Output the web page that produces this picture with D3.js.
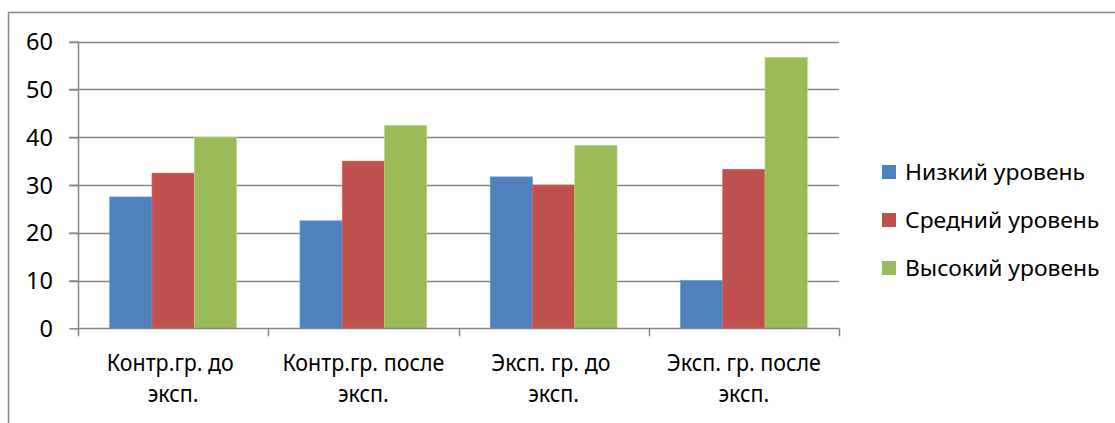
<!DOCTYPE html>
<html>
<head>
<meta charset="utf-8">
<script src="https://cdn.jsdelivr.net/npm/d3@7"></script>
<style>
  html, body { margin: 0; padding: 0; background: #fff; }
  svg { display: block; }
  text { font-family: "Noto Sans", "DejaVu Sans", sans-serif; fill: #000; white-space: pre; }
</style>
</head>
<body>
<svg id="chart" width="1115" height="423"></svg>
<script>
// Category labels, split into two lines each
const categories = ["Контр.гр. до эксп.", "Контр.гр. после эксп.", "Эксп. гр. до эксп.", "Эксп. гр. после эксп."];
const categoryLines = [["Контр.гр. до ", "эксп."], ["Контр.гр. после", "эксп."], ["Эксп. гр. до ", "эксп."], ["Эксп. гр. после", "эксп."]];
const seriesNames = ["Низкий уровень", "Средний уровень", "Высокий уровень"];
const lowLevel    = [27.5, 22.5, 31.7, 10];
const midLevel    = [32.5, 35, 30, 33.3];
const highLevel   = [40, 42.5, 38.3, 56.7];
const yTicks = [0, 10, 20, 30, 40, 50, 60];
const colors = ["#4F81BD", "#C0504D", "#9BBB59"];

const seriesValues = [lowLevel, midLevel, highLevel];

const svg = d3.select("#chart");
const gridColor = "#868686";

// outer chart frame (right and bottom edges fall outside the view)
svg.append("rect")
  .attr("x", 8.5).attr("y", 12.5)
  .attr("width", 1120).attr("height", 430)
  .attr("fill", "none").attr("stroke", gridColor).attr("stroke-width", 1.5);

const plot = { left: 78, right: 839, top: 41.7, bottom: 328.3 };

const x0 = d3.scaleBand().domain(categories).range([plot.left, plot.right]).paddingInner(0).paddingOuter(0);
// Excel-style gap width of 150%: gap = 1.5 bar widths, split on both sides
const x1 = d3.scaleBand().domain(seriesNames).range([0, x0.bandwidth()]).paddingInner(0).paddingOuter(0.75);
const y = d3.scaleLinear().domain([0, 60]).range([plot.bottom, plot.top]);

// gridlines
svg.append("g").selectAll("line").data(yTicks.filter(t => t > 0)).join("line")
  .attr("x1", plot.left - 9).attr("x2", plot.right)
  .attr("y1", d => Math.round(y(d)) + 0.5).attr("y2", d => Math.round(y(d)) + 0.5)
  .attr("stroke", gridColor).attr("stroke-width", 1.5);

// bars
const groups = svg.append("g").selectAll("g").data(categories).join("g")
  .attr("transform", d => `translate(${x0(d)},0)`);
groups.selectAll("rect")
  .data((c, i) => seriesNames.map((s, j) => ({ s, v: seriesValues[j][i], j })))
  .join("rect")
  .attr("x", d => x1(d.s))
  .attr("width", x1.bandwidth())
  .attr("y", d => y(d.v))
  .attr("height", d => y(0) - y(d.v))
  .attr("fill", d => colors[d.j])
  .attr("stroke", d => d3.color(colors[d.j]).brighter(0.5))
  .attr("stroke-width", 0.6);

// y axis line and ticks
const yAxis = d3.axisLeft(y).tickValues(yTicks).tickSize(9).tickFormat("");
const gy = svg.append("g").attr("transform", `translate(${plot.left + 0.5},0)`).call(yAxis);
gy.select(".domain").remove();
gy.selectAll(".tick line").attr("stroke", gridColor).attr("stroke-width", 1.5);
svg.append("line")
  .attr("x1", plot.left + 0.5).attr("x2", plot.left + 0.5)
  .attr("y1", plot.top).attr("y2", plot.bottom)
  .attr("stroke", gridColor).attr("stroke-width", 1.5);

// y tick labels
svg.append("g").selectAll("text").data(yTicks).join("text")
  .attr("x", 53).attr("y", d => y(d) + 8.5)
  .attr("text-anchor", "end")
  .style("font-size", "23.5px")
  .text(d => d);

// x axis line and category ticks
const xBoundaries = categories.map(c => x0(c)).concat([plot.right]);
svg.append("line")
  .attr("x1", plot.left).attr("x2", plot.right)
  .attr("y1", Math.round(y(0)) + 0.5).attr("y2", Math.round(y(0)) + 0.5)
  .attr("stroke", gridColor).attr("stroke-width", 1.5);
svg.append("g").selectAll("line").data(xBoundaries).join("line")
  .attr("x1", d => Math.round(d) + 0.5).attr("x2", d => Math.round(d) + 0.5)
  .attr("y1", y(0)).attr("y2", y(0) + 8)
  .attr("stroke", gridColor).attr("stroke-width", 1.5);

// category labels, horizontally condensed to the narrow face used in the chart
const catText = svg.append("g").selectAll("text").data(categories).join("text")
  .attr("text-anchor", "middle")
  .style("font-size", "23px");
catText.each(function (c, i) {
  const t = d3.select(this);
  categoryLines[i].forEach((line, k) => {
    t.append("tspan")
      .attr("x", x0(c) + x0.bandwidth() / 2)
      .attr("y", 371 + k * 31)
      .text(line);
  });
});
// condense: "Контр.гр. до" spans about 127px
(function condense() {
  const probe = svg.append("text").style("font-size", "23px").text("Контр.гр. до");
  const k = 127 / probe.node().getComputedTextLength();
  probe.remove();
  catText.selectAll("tspan").each(function () {
    const w = this.getComputedTextLength();
    d3.select(this).attr("textLength", w * k).attr("lengthAdjust", "spacingAndGlyphs");
  });
})();

// legend
const legend = svg.append("g");
const legItems = legend.selectAll("g").data(seriesNames).join("g")
  .attr("transform", (d, i) => `translate(882,${165 + i * 48})`);
legItems.append("rect").attr("width", 14).attr("height", 14).attr("fill", (d, i) => colors[i]);
const legText = legItems.append("text")
  .attr("x", 23).attr("y", 14.5)
  .style("font-size", "21px")
  .text(d => d);
(function condenseLegend() {
  const k = 180 / legText.nodes()[0].getComputedTextLength();
  legText.each(function () {
    const w = this.getComputedTextLength();
    d3.select(this).attr("textLength", w * k).attr("lengthAdjust", "spacingAndGlyphs");
  });
})();
</script>
</body>
</html>
